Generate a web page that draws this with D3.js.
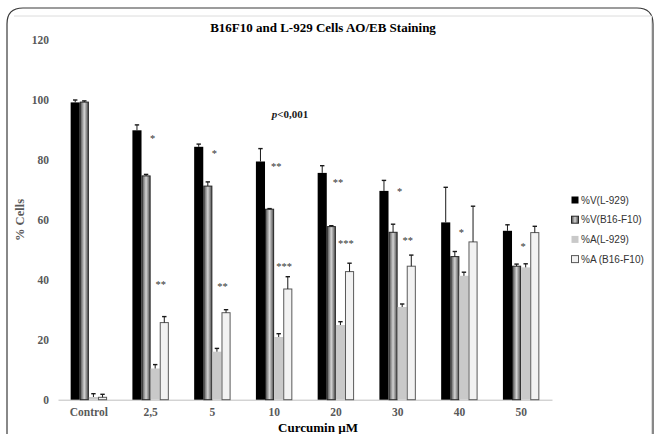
<!DOCTYPE html>
<html>
<head>
<meta charset="utf-8">
<script src="https://cdn.jsdelivr.net/npm/d3@7"></script>
<style>
  body { margin: 0; background: #fff; }
  svg { display: block; }
</style>
</head>
<body>
<div id="chart"></div>
<script>
// categories and series
const categories = ['Control', '2,5', '5', '10', '20', '30', '40', '50']
const seriesNames = ['%V(L-929)', '%V(B16-F10)', '%A(L-929)', '%A (B16-F10)']

const vL929 = [99.1, 89.8, 84.3, 79.4, 75.6, 69.6, 59.1, 56.3]
const vL929Err = [0.8, 1.8, 0.9, 4.3, 2.4, 3.5, 11.7, 2.0]
const vB16 = [99.2, 74.6, 71.2, 63.5, 57.7, 55.8, 47.7, 44.5]
const vB16Err = [0.4, 0.5, 1.4, 0.2, 0.3, 2.7, 1.7, 0.7]
const aL929 = [0.9, 10.4, 16.0, 20.9, 24.9, 30.9, 41.3, 44.1]
const aL929Err = [1.1, 1.3, 1.1, 1.1, 1.1, 1.0, 1.2, 1.2]
const aB16 = [0.8, 25.7, 29.0, 36.9, 42.7, 44.5, 52.6, 55.7]
const aB16Err = [1.0, 2.0, 1.0, 4.1, 2.8, 3.7, 11.9, 2.1]

// significance marks: category, row (0 = viability, 1 = apoptosis), label, level
const starCats = ['2,5', '2,5', '5', '5', '10', '10', '20', '20', '30', '30', '40', '50']
const starRows = [0, 1, 0, 1, 0, 1, 0, 1, 0, 1, 0, 0]
const starText = ['*', '**', '*', '**', '**', '***', '**', '***', '*', '**', '*', '*']
const starLevel = [87.6, 39.0, 82.7, 38.1, 78.2, 44.9, 72.9, 52.5, 69.9, 53.5, 56.3, 51.6]

const yTicks = [0, 20, 40, 60, 80, 100, 120]

const W = 657, H = 434
const margin = { top: 39.7, left: 58, right: 105, bottom: 34.3 }
const plotW = W - margin.left - margin.right
const plotH = H - margin.top - margin.bottom

const svg = d3.select('#chart').append('svg')
  .attr('width', W).attr('height', H)

// gradient for the dark grey series
const defs = svg.append('defs')
const grad = defs.append('linearGradient').attr('id', 'gradB16')
  .attr('x1', '0%').attr('x2', '100%').attr('y1', '0%').attr('y2', '0%')
grad.append('stop').attr('offset', '0%').attr('stop-color', '#4d4d4d')
grad.append('stop').attr('offset', '50%').attr('stop-color', '#d4d4d4')
grad.append('stop').attr('offset', '100%').attr('stop-color', '#4d4d4d')

// outer frame
svg.append('path')
  .attr('d', 'M7,445 L7,24 Q7,8 23,8 L637,8 Q653,8 653,24 L653,445')
  .attr('fill', 'none').attr('stroke', '#3a3a3a').attr('stroke-width', 1.2)
svg.append('path')
  .attr('d', 'M14,16 L651.5,16 L651.5,445')
  .attr('fill', 'none').attr('stroke', '#dcdcdc').attr('stroke-width', 1)

const g = svg.append('g')
  .attr('transform', `translate(${margin.left},${margin.top})`)

const x = d3.scaleBand().domain(categories).range([0, plotW])
  .paddingInner(0.41).paddingOuter(0.205)
const x1 = d3.scaleBand().domain(seriesNames).range([0, x.bandwidth()])
const y = d3.scaleLinear().domain([0, 120]).range([plotH, 0])

// y tick labels (no axis line)
const yAxis = g.append('g').call(d3.axisLeft(y).tickValues(yTicks).tickSize(0).tickPadding(9))
yAxis.select('.domain').remove()
yAxis.selectAll('text')
  .attr('font-family', '"Liberation Serif", serif')
  .attr('font-weight', 'bold').attr('font-size', 11.5).attr('fill', '#595959')

// x axis
const xAxis = g.append('g').attr('transform', `translate(0,${plotH})`)
  .call(d3.axisBottom(x).tickSize(0).tickPadding(8))
xAxis.select('.domain').attr('stroke', '#bfbfbf').attr('stroke-width', 1)
xAxis.selectAll('text')
  .attr('font-family', '"Liberation Serif", serif')
  .attr('font-weight', 'bold').attr('font-size', 11.5).attr('fill', '#595959')

const series = [
  { name: seriesNames[0], values: vL929, errs: vL929Err, fill: '#000000', stroke: 'none' },
  { name: seriesNames[1], values: vB16, errs: vB16Err, fill: 'url(#gradB16)', stroke: '#262626' },
  { name: seriesNames[2], values: aL929, errs: aL929Err, fill: '#c9c9c9', stroke: 'none' },
  { name: seriesNames[3], values: aB16, errs: aB16Err, fill: '#f2f2f2', stroke: '#595959' }
]

series.forEach((s) => {
  const rows = categories.map((c, i) => ({ cat: c, v: s.values[i], e: s.errs[i] }))
  const sg = g.append('g')
  sg.selectAll('rect').data(rows).enter().append('rect')
    .attr('x', (d) => x(d.cat) + x1(s.name) + (s.stroke === 'none' ? 0 : 0.5))
    .attr('y', (d) => y(d.v))
    .attr('width', x1.bandwidth() - (s.stroke === 'none' ? 0 : 1))
    .attr('height', (d) => y(0) - y(d.v))
    .attr('fill', s.fill)
    .attr('stroke', s.stroke)
    .attr('stroke-width', 1)

  // upper error bars only
  const eg = sg.selectAll('g.err').data(rows).enter().append('g')
  const cx = (d) => x(d.cat) + x1(s.name) + x1.bandwidth() / 2
  eg.append('line')
    .attr('x1', cx).attr('x2', cx)
    .attr('y1', (d) => y(d.v)).attr('y2', (d) => y(d.v + d.e))
    .attr('stroke', '#1a1a1a').attr('stroke-width', 1)
  eg.append('line')
    .attr('x1', (d) => cx(d) - 2.2).attr('x2', (d) => cx(d) + 2.2)
    .attr('y1', (d) => y(d.v + d.e)).attr('y2', (d) => y(d.v + d.e))
    .attr('stroke', '#1a1a1a').attr('stroke-width', 1.4)
})

// significance stars
const starDx = [2, 10]
g.selectAll('text.star').data(starCats).enter().append('text')
  .attr('class', 'star')
  .attr('x', (c, i) => x(c) + x.bandwidth() / 2 + starDx[starRows[i]])
  .attr('y', (c, i) => y(starLevel[i]) + 5)
  .attr('text-anchor', 'middle')
  .attr('font-family', '"Liberation Serif", serif')
  .attr('font-size', 10.5).attr('fill', '#333')
  .text((c, i) => starText[i])

// p value
const pText = svg.append('text')
  .attr('x', 290).attr('y', 118)
  .attr('text-anchor', 'middle')
  .attr('font-family', '"Liberation Serif", serif')
  .attr('font-weight', 'bold').attr('font-size', 11).attr('fill', '#1a1a1a')
pText.append('tspan').attr('font-style', 'italic').text('p')
pText.append('tspan').text('<0,001')

// title
svg.append('text')
  .attr('x', 323).attr('y', 32)
  .attr('text-anchor', 'middle')
  .attr('font-family', '"Liberation Serif", serif')
  .attr('font-weight', 'bold').attr('font-size', 13).attr('fill', '#000')
  .text('B16F10 and L-929 Cells AO/EB Staining')

// axis titles
svg.append('text')
  .attr('transform', 'translate(24,220) rotate(-90)')
  .attr('text-anchor', 'middle')
  .attr('font-family', '"Liberation Serif", serif')
  .attr('font-weight', 'bold').attr('font-size', 12.5).attr('fill', '#595959')
  .text('% Cells')

svg.append('text')
  .attr('x', 318).attr('y', 432)
  .attr('text-anchor', 'middle')
  .attr('font-family', '"Liberation Serif", serif')
  .attr('font-weight', 'bold').attr('font-size', 13).attr('fill', '#000')
  .text('Curcumin µM')

// legend
const legend = svg.append('g').attr('transform', 'translate(571,196)')
const li = legend.selectAll('g').data(series).enter().append('g')
  .attr('transform', (d, i) => `translate(0,${i * 19.7})`)
li.append('rect')
  .attr('x', 0.5).attr('y', 0.5).attr('width', 7).attr('height', 7)
  .attr('fill', (d) => d.fill)
  .attr('stroke', (d) => d.stroke)
li.append('text')
  .attr('x', 10).attr('y', 7.5)
  .attr('font-family', '"Liberation Sans", Arial, sans-serif')
  .attr('font-size', 10).attr('fill', '#333')
  .text((d) => d.name)
</script>
</body>
</html>
